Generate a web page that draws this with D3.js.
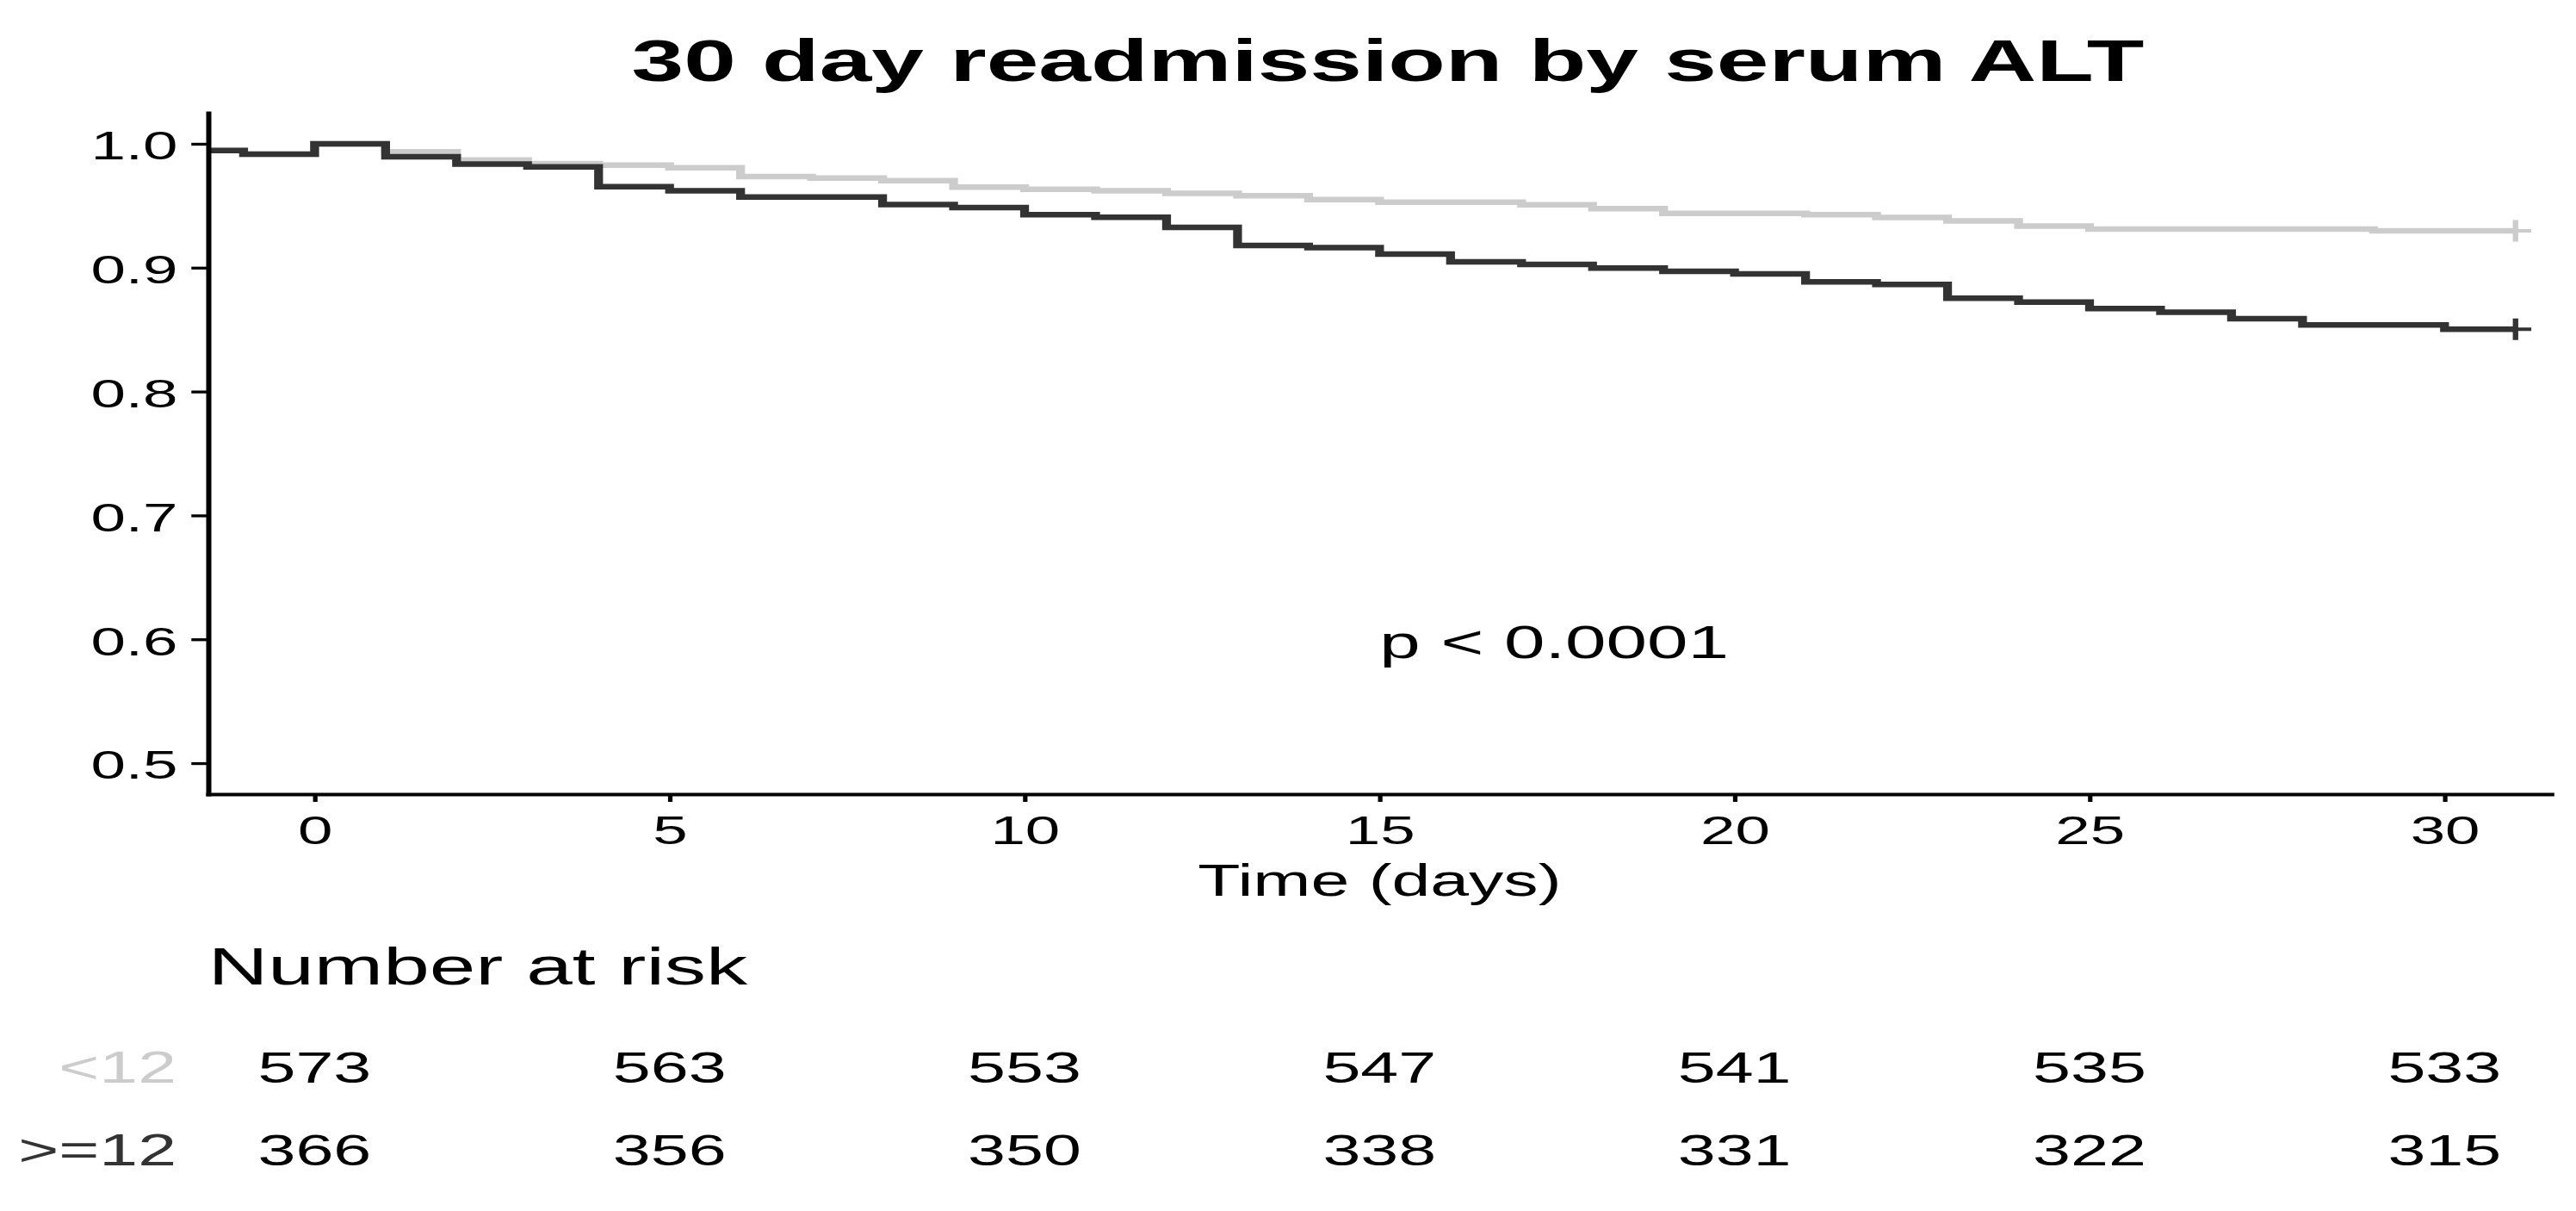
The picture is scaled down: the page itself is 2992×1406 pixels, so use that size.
<!DOCTYPE html>
<html>
<head>
<meta charset="utf-8">
<script src="https://cdn.jsdelivr.net/npm/d3@7"></script>
<style>
  body { margin: 0; background: #fff; }
  text { font-family: "Liberation Sans", Arial, sans-serif; }
</style>
</head>
<body>
<div id="chart"></div>
<script>
// survival steps (time in days, survival probability)
var timesLow = [-1.5, -1, 0, 1, 2, 3, 4, 5, 6, 7, 8, 9, 10, 11, 12, 13, 14, 15, 17, 18, 19, 21, 22, 23, 24, 25, 29, 31];
var survLow = [0.9946, 0.9916, 1.0, 0.9935, 0.987, 0.984, 0.9828, 0.9807, 0.9735, 0.9723, 0.9702, 0.9651, 0.9633, 0.9621,
  0.96, 0.958, 0.9549, 0.9528, 0.9507, 0.9477, 0.9438, 0.9428, 0.9405, 0.9377, 0.9335, 0.9312, 0.9298, 0.9298];

var timesHigh = [-1.5, -1, 0, 1, 2, 3, 4, 5, 6, 8, 9, 10, 11, 12, 13, 14, 15, 16, 17, 18, 19, 20, 21, 22, 23, 24, 25, 26, 27, 28, 30, 31];
var survHigh = [0.9946, 0.9916, 1.0, 0.9895, 0.9837, 0.9814, 0.9653, 0.962, 0.957, 0.951, 0.9486, 0.9428, 0.9407, 0.9326,
  0.918, 0.9161, 0.911, 0.9047, 0.9026, 0.8996, 0.897, 0.8949, 0.8886, 0.8865, 0.8754, 0.8722, 0.867, 0.864, 0.8589,
  0.8538, 0.8503, 0.8503];

var strata = ["<12", ">=12"];
var strataColors = ["#cccccc", "#333333"];

// number at risk table
var riskTimes = [0, 5, 10, 15, 20, 25, 30];
var riskLow = [573, 563, 553, 547, 541, 535, 533];
var riskHigh = [366, 356, 350, 338, 331, 322, 315];

var xTicks = [0, 5, 10, 15, 20, 25, 30];
var yTicks = [0.5, 0.6, 0.7, 0.8, 0.9, 1.0];

var pvalText = "p < 0.0001";
var pvalAt = [15, 0.6];

function Plot() {
  var svgWidth = 2992;
  var svgHeight = 1406;
  // the original picture is stretched sideways, so draw in a squeezed space
  var SX = 1.58;

  var panel = { left: 241.7 / SX, right: 2963 / SX, top: 131, bottom: 922 };

  var svg = d3.select("#chart")
    .append("svg")
    .attr("width", svgWidth)
    .attr("height", svgHeight);

  var root = svg.append("g")
    .attr("transform", "scale(" + SX + ",1)");

  var x = d3.scaleLinear()
    .domain([-1.5, 31.5])
    .range([panel.left, panel.right]);

  var y = d3.scaleLinear()
    .domain([0.475, 1.025])
    .range([panel.bottom, panel.top]);

  // title
  root.append("text")
    .attr("x", 1612 / SX)
    .attr("y", 94)
    .attr("text-anchor", "middle")
    .attr("font-size", "69px")
    .attr("font-weight", "bold")
    .text("30 day readmission by serum ALT");

  // curves
  var line = d3.line()
    .x(d => x(d[0]))
    .y(d => y(d[1]))
    .curve(d3.curveStepAfter);

  var series = [
    d3.zip(timesLow, survLow),
    d3.zip(timesHigh, survHigh)
  ];

  series.forEach(function(s, i) {
    root.append("path")
      .datum(s)
      .attr("d", line)
      .attr("fill", "none")
      .attr("stroke", strataColors[i])
      .attr("stroke-width", 6.5);

    // censor mark at the end
    var last = s[s.length - 1];
    var cx = x(last[0]), cy = y(last[1]);
    root.append("path")
      .attr("d", "M" + (cx - 11.6) + "," + cy + "H" + (cx + 11.6) + "M" + cx + "," + (cy - 12.5) + "V" + (cy + 12.5))
      .attr("fill", "none")
      .attr("stroke", strataColors[i])
      .attr("stroke-width", 4);
  });

  // axes
  var yAxis = root.append("g")
    .attr("transform", "translate(" + panel.left + ",0)")
    .call(d3.axisLeft(y).tickValues(yTicks).tickFormat(d3.format(".1f"))
      .tickSize(12.3).tickSizeOuter(0).tickPadding(10));

  var xAxis = root.append("g")
    .attr("transform", "translate(0," + panel.bottom + ")")
    .call(d3.axisBottom(x).tickValues(xTicks).tickFormat(d3.format("d"))
      .tickSize(9).tickSizeOuter(0).tickPadding(16));

  [yAxis, xAxis].forEach(function(a) {
    a.select(".domain").attr("stroke", "#000").attr("stroke-width", 3.8).attr("stroke-linecap", "square");
    a.selectAll(".tick line").attr("stroke", "#000").attr("stroke-width", 3.3);
    a.selectAll(".tick text")
      .attr("fill", "#000")
      .attr("font-size", "46px")
      .attr("font-family", "'Liberation Sans', Arial, sans-serif");
  });
  yAxis.selectAll(".tick text").attr("dy", "0.39em");

  // axis title
  root.append("text")
    .attr("x", (panel.left + panel.right) / 2)
    .attr("y", 1040)
    .attr("text-anchor", "middle")
    .attr("font-size", "51px")
    .text("Time (days)");

  // p value
  root.append("text")
    .attr("x", x(pvalAt[0]))
    .attr("y", y(pvalAt[1]))
    .attr("dy", "0.4em")
    .attr("font-size", "54px")
    .text(pvalText);

  // risk table
  root.append("text")
    .attr("x", panel.left)
    .attr("y", 1143)
    .attr("font-size", "61px")
    .text("Number at risk");

  var rows = [riskLow, riskHigh];
  var rowY = [1257, 1353];

  rows.forEach(function(vals, i) {
    root.append("text")
      .attr("x", 205 / SX)
      .attr("y", rowY[i])
      .attr("text-anchor", "end")
      .attr("font-size", "51px")
      .attr("fill", strataColors[i])
      .text(strata[i]);

    root.selectAll(null)
      .data(vals)
      .enter()
      .append("text")
      .attr("x", (d, j) => x(riskTimes[j]))
      .attr("y", rowY[i])
      .attr("text-anchor", "middle")
      .attr("font-size", "50px")
      .attr("fill", "#000")
      .text(d => d);
  });
}

Plot();
</script>
</body>
</html>
